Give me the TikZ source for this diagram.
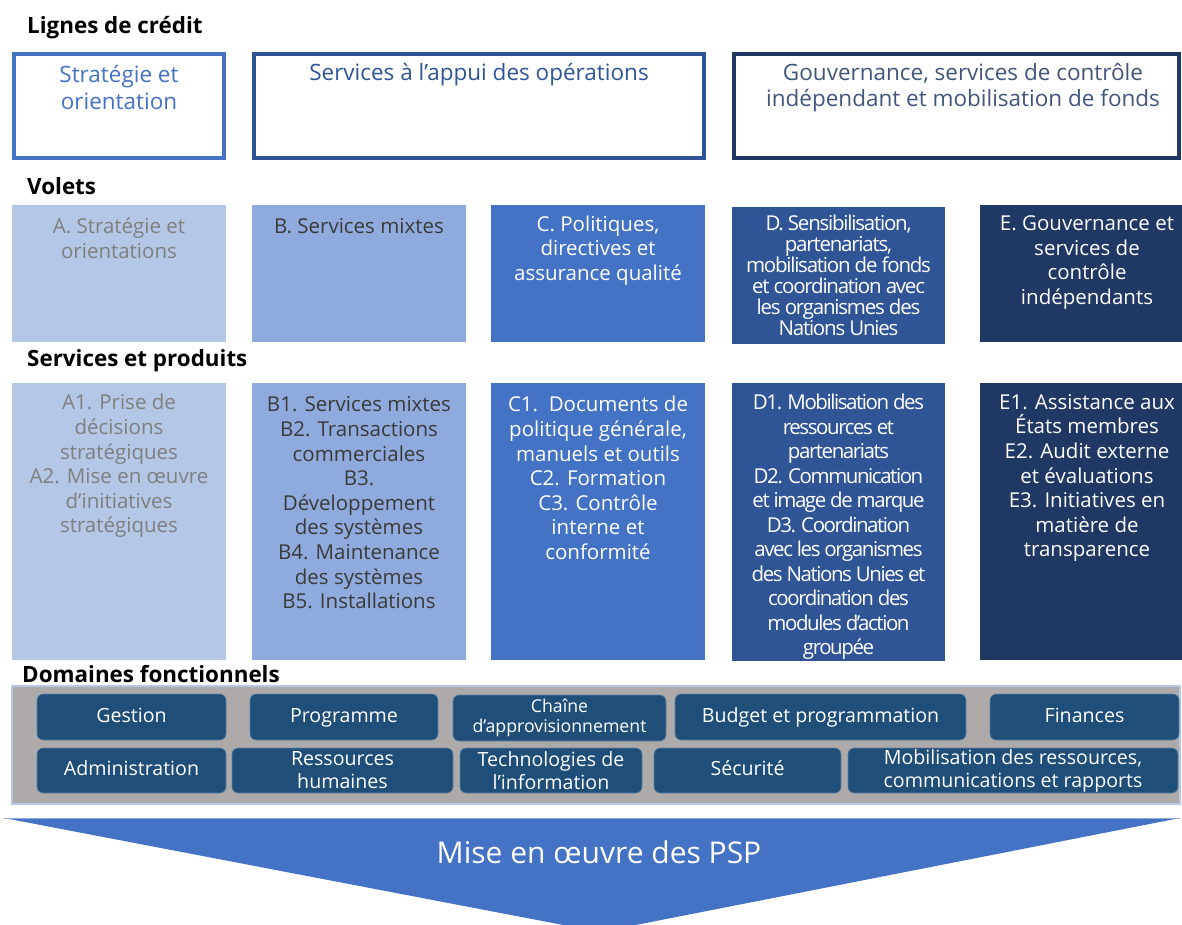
\documentclass[tikz,border=0pt]{standalone}
\usepackage{fontspec}
\setmainfont{Open Sans}
\definecolor{cA}{HTML}{B4C7E7}
\definecolor{cB}{HTML}{8FAADC}
\definecolor{cC}{HTML}{4472C4}
\definecolor{cD}{HTML}{2F5597}
\definecolor{cE}{HTML}{203864}
\definecolor{cDom}{HTML}{1F4E79}
\definecolor{cGray}{HTML}{AEAAAA}
\definecolor{tA}{HTML}{7F7F7F}
\definecolor{tB}{HTML}{3A3A3A}
\newcommand{\txtfont}{\fontsize{20.5}{24.6}\selectfont}
\newcommand{\topfont}{\fontsize{22.5}{26.5}\selectfont}
\newcommand{\condfont}{\fontsize{20.5}{21}\selectfont\addfontfeature{LetterSpace=-6}}
\newcommand{\condfontb}{\fontsize{20.5}{24.5}\selectfont\addfontfeature{LetterSpace=-7}}
\begin{document}
\begin{tikzpicture}[x=1pt,y=-1pt,
  hdr/.style={anchor=west,inner sep=0,font=\fontsize{22.4}{26}\selectfont\bfseries},
  ligne/.style={draw=#1,line width=4pt,fill=white,anchor=north west,outer sep=0,inner sep=0},
  panel/.style={fill=#1,anchor=north west,outer sep=0,inner sep=0},
  tx/.style={align=center,inner sep=0,font=\txtfont},
  dom/.style={fill=cDom,draw=cDom!70!white,line width=0.6pt,rounded corners=6pt,text=white,align=center,inner sep=0,anchor=north west,outer sep=0,font=\fontsize{19.6}{23}\selectfont},
  one/.style={text height=14pt,text depth=4pt}
]
\useasboundingbox (0,0) rectangle (1182,924);
\fill[white] (0,0) rectangle (1182,924);

% headers
\node[hdr] (h1) at (27,28) {Lignes de crédit};
\node[hdr] (h2) at (27,186) {Volets};
\node[hdr] (h3) at (27,361) {Services et produits};
\node[hdr] (h4) at (22,674) {Domaines fonctionnels};

% lignes de credit
\node[ligne=cC,minimum width=210,minimum height=104] (l1) at (14,54) {};
\node[ligne=cD,minimum width=450,minimum height=104] (l2) at (254,54) {};
\node[ligne=cE,minimum width=445,minimum height=104] (l3) at (734,54) {};
\node[tx,text=cC,font=\topfont] (l1t) at (119,87.5) {Stratégie et\\orientation};
\node[tx,text=cD,font=\topfont] (l2t) at (479,74.5) {Services à l’appui des opérations};
\node[tx,text=cE!85!white,font=\topfont] (l3t) at (963,87.5) {Gouvernance, services de contrôle\\indépendant et mobilisation de fonds};

% volets
\node[panel=cA,minimum width=214,minimum height=137] (vA) at (12,205) {};
\node[panel=cB,minimum width=214,minimum height=137] (vB) at (252,205) {};
\node[panel=cC,minimum width=214,minimum height=137] (vC) at (491,205) {};
\node[panel=cD,minimum width=213,minimum height=137] (vD) at (732,207) {};
\node[panel=cE,minimum width=202,minimum height=137] (vE) at (980,205) {};
\node[tx,text=tA] (vAt) at (119,238) {A. Stratégie et\\orientations};
\node[tx,text=tB] (vBt) at (359,226) {B. Services mixtes};
\node[tx,text=white] (vCt) at (598,250.5) {C. Politiques,\\directives et\\assurance qualité};
\node[tx,text=white,font=\condfont] (vDt) at (838.5,275) {D. Sensibilisation,\\partenariats,\\mobilisation de fonds\\et coordination avec\\les organismes des\\Nations Unies};
\node[tx,text=white] (vEt) at (1087,262.5) {E. Gouvernance et\\services de\\contrôle\\indépendants};

% services et produits
\node[panel=cA,minimum width=214,minimum height=277] (sA) at (12,383) {};
\node[panel=cB,minimum width=214,minimum height=277] (sB) at (252,383) {};
\node[panel=cC,minimum width=214,minimum height=277] (sC) at (491,383) {};
\node[panel=cD,minimum width=213,minimum height=278] (sD) at (732,383) {};
\node[panel=cE,minimum width=202,minimum height=277] (sE) at (980,383) {};
\node[tx,text=tA] (sAt) at (119,466) {A1. Prise de\\décisions\\stratégiques\\A2. Mise en œuvre\\d’initiatives\\stratégiques};
\node[tx,text=tB] (sBt) at (359,503) {B1. Services mixtes\\B2. Transactions\\commerciales\\B3.\\Développement\\des systèmes\\B4. Maintenance\\des systèmes\\B5. Installations};
\node[tx,text=white] (sCt) at (598,478) {C1.\ \ Documents de\\politique générale,\\manuels et outils\\C2. Formation\\C3. Contrôle\\interne et\\conformité};
\node[tx,text=white,font=\condfontb] (sDt) at (838.5,527) {D1. Mobilisation des\\ressources et\\partenariats\\D2. Communication\\et image de marque\\D3. Coordination\\avec les organismes\\des Nations Unies et\\coordination des\\modules d’action\\groupée};
\node[tx,text=white] (sEt) at (1087,478) {E1. Assistance aux\\États membres\\E2. Audit externe\\et évaluations\\E3. Initiatives en\\matière de\\transparence};

% domaines fonctionnels
\node[panel=cGray,draw=cA,line width=1.5pt,minimum width=1168,minimum height=118] (dp) at (12,686) {};
\node[dom,one,minimum width=189,minimum height=46] (d1) at (37,694) {Gestion};
\node[dom,one,minimum width=188,minimum height=46] (d2) at (250,694) {Programme};
\node[dom,minimum width=213,minimum height=46,font=\fontsize{17.7}{20}\selectfont] (d3) at (453,695) {Chaîne\\d’approvisionnement};
\node[dom,one,minimum width=291,minimum height=46] (d4) at (675,694) {Budget et programmation};
\node[dom,one,minimum width=189,minimum height=46] (d5) at (990,694) {Finances};
\node[dom,one,minimum width=189,minimum height=45] (d6) at (37,748) {Administration};
\node[dom,minimum width=221,minimum height=45] (d7) at (232,748) {Ressources\\humaines};
\node[dom,minimum width=182,minimum height=45] (d8) at (460,748) {Technologies de\\l’information};
\node[dom,one,minimum width=187,minimum height=45] (d9) at (654,748) {Sécurité};
\node[dom,minimum width=330,minimum height=45] (d10) at (848,748) {Mobilisation des ressources,\\communications et rapports};

% arrow
\fill[cC] (4,818) -- (1180,818) -- (600,932) -- cycle;
\draw[cB,line width=1pt] (4,818) -- (1180,818);
\node[text=white,inner sep=0,font=\fontsize{30}{34}\selectfont] (mise) at (599,852) {Mise en œuvre des PSP};
\end{tikzpicture}
\end{document}
